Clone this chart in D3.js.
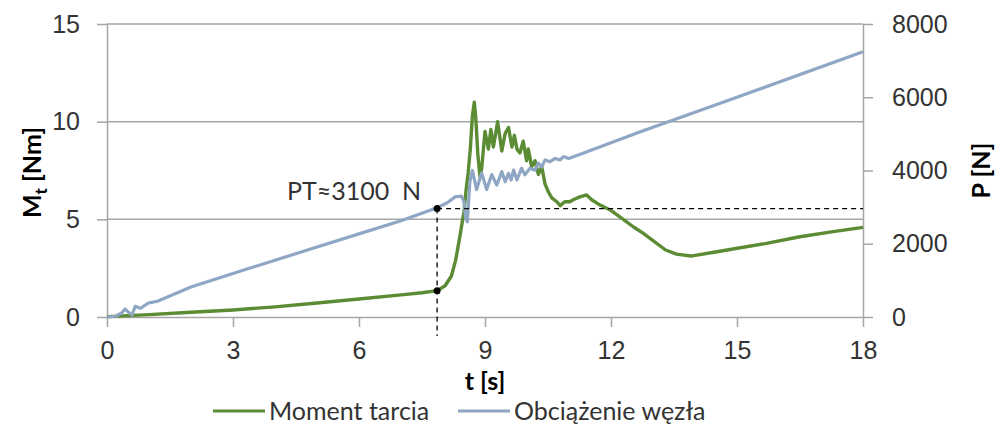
<!DOCTYPE html>
<html>
<head>
<meta charset="utf-8">
<script src="https://cdn.jsdelivr.net/npm/d3@7"></script>
<style>
  body { margin: 0; background: #fff; }
  svg { font-family: Lato, "Open Sans", sans-serif; }
</style>
</head>
<body>
<svg id="chart" width="996" height="426"></svg>
<script>
// Moment tarcia (left axis, Nm)
const momentT = [0, 1, 2, 3, 4, 5, 6, 7, 7.5, 7.86, 8.05, 8.2, 8.3, 8.4, 8.5, 8.55, 8.6, 8.65, 8.7, 8.745,
  8.78, 8.83, 8.88, 8.92, 9.0, 9.08, 9.14, 9.2, 9.3, 9.4, 9.48, 9.56, 9.64, 9.7, 9.76, 9.83, 9.91, 9.99,
  10.03, 10.11, 10.19, 10.27, 10.35, 10.43, 10.51, 10.59, 10.71, 10.79, 10.9, 11.02, 11.1, 11.26, 11.42,
  11.54, 11.74, 11.98, 12.21, 12.53, 12.77, 13.3, 13.56, 13.9, 14.52, 15.7, 16.5, 17.29, 18];
const momentVal = [0.02, 0.12, 0.24, 0.36, 0.52, 0.72, 0.92, 1.13, 1.24, 1.35, 1.6, 2.1, 2.9, 4.1, 5.4, 6.5, 7.4, 8.6, 10.3, 11.0,
  10.2, 8.3, 7.2, 7.6, 9.5, 8.6, 9.6, 8.7, 10.0, 8.5, 9.4, 9.7, 8.7, 9.3, 8.6, 8.4, 9.0, 8.0,
  8.6, 7.7, 8.0, 7.3, 7.7, 6.8, 6.4, 6.1, 5.9, 5.7, 5.9, 5.9, 6.0, 6.15, 6.25,
  6.0, 5.73, 5.48, 5.13, 4.62, 4.28, 3.43, 3.22, 3.12, 3.34, 3.77, 4.11, 4.37, 4.59];

// Obciazenie wezla (right axis, N)
const loadT = [0, 0.2, 0.35, 0.43, 0.52, 0.6, 0.67, 0.8, 0.98, 1.2, 2, 3, 4, 5, 6, 7, 7.86, 8.1, 8.29, 8.44, 8.5,
  8.54, 8.58, 8.64, 8.7, 8.8, 8.92, 9.04, 9.16, 9.28, 9.4, 9.48, 9.56, 9.62, 9.68, 9.76, 9.87, 9.95,
  10.07, 10.19, 10.27, 10.35, 10.43, 10.55, 10.67, 10.79, 10.87, 10.99, 11.3, 12.7, 15, 18];
const loadVal = [0, 20, 110, 220, 120, 60, 290, 240, 380, 430, 820, 1190, 1550, 1910, 2270, 2630, 2980, 3120, 3280, 3300, 3150,
  2700, 2600, 3700, 4000, 3480, 3930, 3480, 3890, 3600, 3970, 3690, 3920, 3740, 4010, 3740, 4060, 3880,
  4060, 4010, 4200, 4100, 4290, 4240, 4330, 4290, 4380, 4330, 4460, 5060, 6000, 7240];

const xTicks = [0, 3, 6, 9, 12, 15, 18];
const leftTicks = [0, 5, 10, 15];
const rightTicks = [0, 2000, 4000, 6000, 8000];
const seriesNames = ["Moment tarcia", "Obciążenie węzła"];
const seriesColors = ["#5b8c34", "#8fa6c4"];
const ptTime = 7.86;
const ptLoad = 2960;
const ptLabel = "PT≈3100  N";

const svg = d3.select("#chart");
const margin = { top: 24, right: 133, bottom: 109, left: 107 };
const width = +svg.attr("width") - margin.left - margin.right;
const height = +svg.attr("height") - margin.top - margin.bottom;
const g = svg.append("g").attr("transform", `translate(${margin.left},${margin.top})`);

const x = d3.scaleLinear().domain([0, 18]).range([0, width]);
const yM = d3.scaleLinear().domain([0, 15]).range([height, 0]);
const yP = d3.scaleLinear().domain([0, 8000]).range([height, 0]);

const axisColor = "#a6a6a6";
const textColor = "#333";
const fontSize = 25;

// gridlines
g.append("g")
  .selectAll("line")
  .data(leftTicks.filter(d => d > 0))
  .enter()
  .append("line")
  .attr("x1", 0)
  .attr("x2", width)
  .attr("y1", d => yM(d))
  .attr("y2", d => yM(d))
  .attr("stroke", axisColor)
  .attr("stroke-width", 1.5);

function styleAxis(sel) {
  sel.select(".domain").attr("stroke", axisColor).attr("stroke-width", 1.5);
  sel.selectAll(".tick line").attr("stroke", axisColor).attr("stroke-width", 1.5);
  sel.selectAll(".tick text").attr("fill", textColor).style("font-size", fontSize + "px");
}

g.append("g")
  .attr("transform", `translate(0,${height})`)
  .call(d3.axisBottom(x).tickValues(xTicks).tickSize(10).tickSizeOuter(0).tickPadding(14))
  .call(styleAxis);

g.append("g")
  .call(d3.axisLeft(yM).tickValues(leftTicks).tickSize(10).tickSizeOuter(0).tickPadding(17))
  .call(styleAxis);

g.append("g")
  .attr("transform", `translate(${width},0)`)
  .call(d3.axisRight(yP).tickValues(rightTicks).tickFormat(d3.format("d"))
    .tickSize(10).tickSizeOuter(0).tickPadding(19))
  .call(styleAxis);

// series
const momentLine = d3.line().x((d, i) => x(momentT[i])).y(d => yM(d));
const loadLine = d3.line().x((d, i) => x(loadT[i])).y(d => yP(d));

g.append("path")
  .datum(momentVal)
  .attr("fill", "none")
  .attr("stroke", seriesColors[0])
  .attr("stroke-width", 3.4)
  .attr("stroke-linejoin", "round")
  .attr("d", momentLine);

g.append("path")
  .datum(loadVal)
  .attr("fill", "none")
  .attr("stroke", seriesColors[1])
  .attr("stroke-width", 3.2)
  .attr("stroke-linejoin", "round")
  .attr("d", loadLine);

// PT annotation
const ptMoment = momentVal[momentT.indexOf(ptTime)];
g.append("line")
  .attr("x1", x(ptTime)).attr("x2", x(ptTime))
  .attr("y1", yP(ptLoad)).attr("y2", height + 19)
  .attr("stroke", "#000").attr("stroke-width", 1.3).attr("stroke-dasharray", "5,4");
g.append("line")
  .attr("x1", x(ptTime)).attr("x2", width)
  .attr("y1", yP(ptLoad)).attr("y2", yP(ptLoad))
  .attr("stroke", "#000").attr("stroke-width", 1.3).attr("stroke-dasharray", "5,4");
g.append("circle").attr("cx", x(ptTime)).attr("cy", yP(ptLoad)).attr("r", 3.5).attr("fill", "#000");
g.append("circle").attr("cx", x(ptTime)).attr("cy", yM(ptMoment)).attr("r", 3.5).attr("fill", "#000");
g.append("text")
  .attr("x", x(ptTime) - 16)
  .attr("y", yP(ptLoad) - 9)
  .attr("text-anchor", "end")
  .attr("fill", textColor)
  .style("font-size", fontSize + "px")
  .style("white-space", "pre")
  .text(ptLabel);

// axis titles
const leftTitle = svg.append("text")
  .attr("transform", `translate(41,${margin.top + yM(7.5) + 2}) rotate(-90)`)
  .attr("text-anchor", "middle")
  .attr("fill", "#000")
  .style("font-size", fontSize + "px")
  .style("font-weight", "bold");
leftTitle.append("tspan").text("M");
leftTitle.append("tspan").attr("dy", 6).style("font-size", "17px").text("t");
leftTitle.append("tspan").attr("dy", -6).text(" [Nm]");

svg.append("text")
  .attr("transform", `translate(990,${margin.top + yP(4000)}) rotate(-90)`)
  .attr("text-anchor", "middle")
  .attr("fill", "#000")
  .style("font-size", fontSize + "px")
  .style("font-weight", "bold")
  .text("P [N]");

svg.append("text")
  .attr("x", margin.left + x(9))
  .attr("y", 390)
  .attr("text-anchor", "middle")
  .attr("fill", "#000")
  .style("font-size", fontSize + "px")
  .style("font-weight", "bold")
  .text("t [s]");

// legend
const legendX = [213, 458];
const legend = svg.append("g").attr("transform", "translate(0,411)");
seriesNames.forEach((name, i) => {
  legend.append("line")
    .attr("x1", legendX[i]).attr("x2", legendX[i] + 52)
    .attr("y1", 0).attr("y2", 0)
    .attr("stroke", seriesColors[i]).attr("stroke-width", 3);
  legend.append("text")
    .attr("x", legendX[i] + 56)
    .attr("y", 9)
    .attr("fill", textColor)
    .style("font-size", fontSize + "px")
    .text(name);
});
</script>
</body>
</html>
